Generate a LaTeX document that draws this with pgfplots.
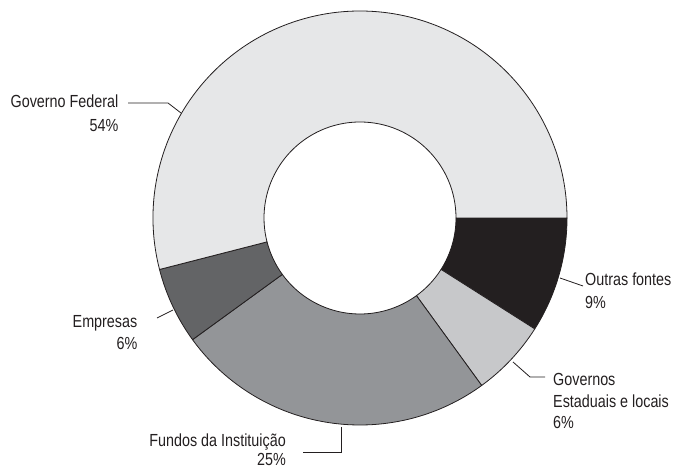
\documentclass[border=0pt]{standalone}
\usepackage{pgfplots}
\pgfplotsset{compat=1.18}
\usetikzlibrary{calc}
\usepackage{fontspec}
\setmainfont{Liberation Sans}[FakeStretch=0.82]
\definecolor{edge}{HTML}{231F20}
\definecolor{cfederal}{HTML}{E6E7E8}
\definecolor{cempresas}{HTML}{636466}
\definecolor{cfundos}{HTML}{939598}
\definecolor{cestaduais}{HTML}{C7C8CA}
\definecolor{coutras}{HTML}{231F20}
\newcommand{\lbl}{\fontsize{17.5}{21.5}\selectfont}
% slice: start cumulative %, end cumulative %, colour
\newcommand{\donutslice}[3]{%
  \filldraw[fill=#3, draw=edge, line width=0.8pt, line join=round]
    ($(axis cs:360,252)+({-3.6*#1}:207pt)$)
    arc[start angle={-3.6*#1}, end angle={-3.6*#2}, radius=207pt]
    -- ($(axis cs:360,252)+({-3.6*#2}:96pt)$)
    arc[start angle={-3.6*#2}, end angle={-3.6*#1}, radius=96pt]
    -- cycle;}
\begin{document}
\begin{tikzpicture}
\useasboundingbox (0,0) rectangle (679pt,470pt);
\begin{axis}[
  at={(0,0)}, anchor=south west,
  hide axis, x=1pt, y=1pt,
  xmin=0, xmax=679, ymin=0, ymax=470,
  clip=false,
]
% Outras fontes 9, Estaduais 6, Fundos 25, Empresas 6, Federal 54
\donutslice{0}{9}{coutras}
\donutslice{9}{15}{cestaduais}
\donutslice{15}{40}{cfundos}
\donutslice{40}{46}{cempresas}
\donutslice{46}{100}{cfederal}
% leader lines
\draw[edge, line width=0.8pt] (axis cs:128,367) -- (axis cs:168,367) -- (axis cs:181,357);
\draw[edge, line width=0.8pt] (axis cs:560,192) -- (axis cs:583,184);
\draw[edge, line width=0.8pt] (axis cs:513,108) -- (axis cs:530,93) -- (axis cs:545,93);
\draw[edge, line width=0.8pt] (axis cs:157,152) -- (axis cs:173,160);
\draw[edge, line width=0.8pt] (axis cs:341,43) -- (axis cs:341,18) -- (axis cs:303,18);
% labels
\node[anchor=base east, font=\lbl, text=edge, inner sep=0pt] at (axis cs:118.5,362) {Governo Federal};
\node[anchor=base east, font=\lbl, text=edge, inner sep=0pt] at (axis cs:118.5,338) {54\%};
\node[anchor=base west, font=\lbl, text=edge, inner sep=0pt] at (axis cs:585,184) {Outras fontes};
\node[anchor=base west, font=\lbl, text=edge, inner sep=0pt] at (axis cs:585,161) {9\%};
\node[anchor=base west, font=\lbl, text=edge, inner sep=0pt] at (axis cs:553,84) {Governos};
\node[anchor=base west, font=\lbl, text=edge, inner sep=0pt] at (axis cs:553,62.5) {Estaduais e locais};
\node[anchor=base west, font=\lbl, text=edge, inner sep=0pt] at (axis cs:553,41) {6\%};
\node[anchor=base east, font=\lbl, text=edge, inner sep=0pt] at (axis cs:137.5,142) {Empresas};
\node[anchor=base east, font=\lbl, text=edge, inner sep=0pt] at (axis cs:137.5,120) {6\%};
\node[anchor=base east, font=\lbl, text=edge, inner sep=0pt] at (axis cs:286,23) {Fundos da Instituição};
\node[anchor=base east, font=\lbl, text=edge, inner sep=0pt] at (axis cs:286,4) {25\%};
\end{axis}
\end{tikzpicture}
\end{document}
